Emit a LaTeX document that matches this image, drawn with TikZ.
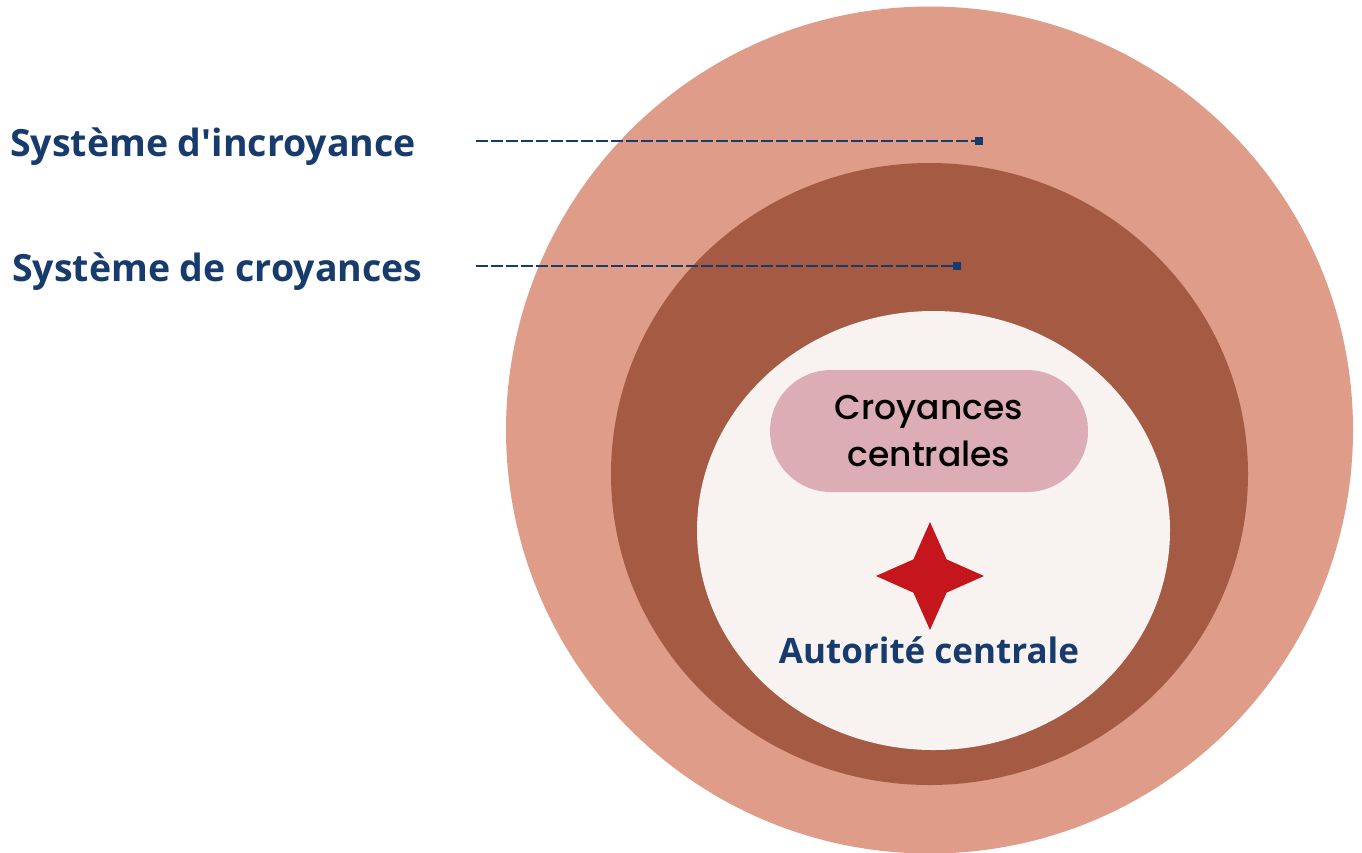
\documentclass[tikz,border=0pt]{standalone}
\usepackage{fontspec}
\setmainfont{Open Sans}[Ligatures=TeXOff]
\newfontfamily\pillfont{Poppins Medium}
\usetikzlibrary{shapes.geometric}
\definecolor{outerc}{HTML}{DE9C89}
\definecolor{midc}{HTML}{A45A43}
\definecolor{innerc}{HTML}{F8F2F0}
\definecolor{pillc}{HTML}{DCADB4}
\definecolor{starc}{HTML}{C4161C}
\definecolor{navy}{HTML}{173B6C}
\tikzset{
  lbl/.style={font=\fontsize{37.5}{44}\selectfont\bfseries, text=navy, anchor=base west, inner sep=0pt},
  leader/.style={navy, line width=1.6pt, dash pattern=on 12pt off 3pt},
  endsq/.style={rectangle, fill=navy, minimum size=8pt, inner sep=0pt},
}
\begin{document}
\begin{tikzpicture}[x=1pt,y=-1pt]
\useasboundingbox (0,0) rectangle (1362,852);
\begin{scope}
\clip (0,0) rectangle (1362,852);
\fill[outerc] (929.5,430) circle (423.5);
\end{scope}
\fill[midc] (929.5,474) ellipse [x radius=318.5, y radius=311];
\fill[innerc] (933.5,530.5) ellipse [x radius=236.5, y radius=219.5];
\node[fill=pillc, rounded corners=61pt, minimum width=318pt, minimum height=122pt, inner sep=0pt,
  font=\pillfont\fontsize{34.5}{47}\selectfont, align=center] (pill) at (929,431) {Croyances\\centrales};
\node[star, star points=4, star point ratio=2.3, minimum size=108pt, fill=starc, inner sep=0pt] (star) at (930,576) {};
\node[font=\fontsize{35}{40}\selectfont\bfseries, text=navy, anchor=base, inner sep=0pt] (auth) at (929,663) {Autorité centrale};
\node[lbl] (l1) at (10,156) {Système d'incroyance};
\node[lbl] (l2) at (12,281) {Système de croyances};
\node[endsq] (s1) at (979,141) {};
\node[endsq] (s2) at (957,266) {};
\coordinate (c1) at (476,141);
\coordinate (c2) at (476,266);
\draw[leader] (c1) -- (s1.center);
\draw[leader] (c2) -- (s2.center);
\end{tikzpicture}
\end{document}
